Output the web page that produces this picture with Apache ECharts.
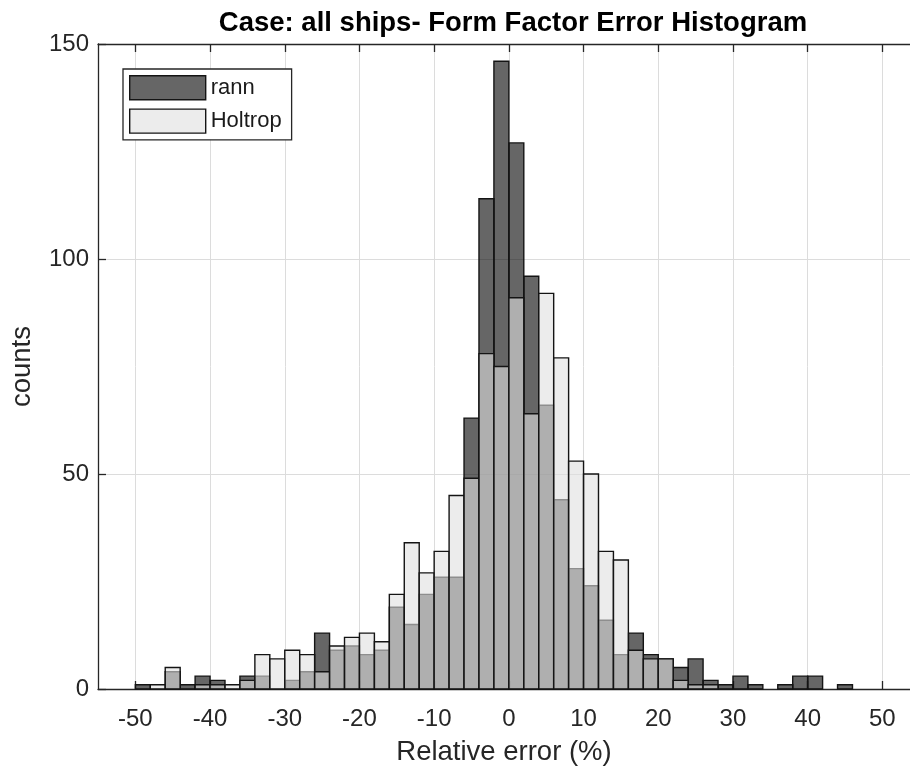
<!DOCTYPE html>
<html>
<head>
<meta charset="utf-8">
<title>Form Factor Error Histogram</title>
<script src="https://cdn.jsdelivr.net/npm/echarts@6/dist/echarts.min.js"></script>
<style>
  html, body { margin: 0; padding: 0; background: #fff; }
  #chart { width: 910px; height: 771px; }
</style>
</head>
<body>
<div id="chart"></div>
<script>
// Histogram bin edges (relative error, %), bin width 2
const binEdges = [-50, -48, -46, -44, -42, -40, -38, -36, -34, -32, -30, -28, -26, -24, -22, -20,
  -18, -16, -14, -12, -10, -8, -6, -4, -2, 0, 2, 4, 6, 8, 10, 12, 14, 16, 18, 20, 22, 24, 26, 28,
  30, 32, 34, 36, 38, 40, 42, 44, 46];

// Counts per bin
const rannCounts = [1, 0, 4, 1, 3, 2, 0, 3, 3, 0, 2, 4, 13, 9, 10, 8,
  9, 19, 15, 22, 26, 26, 63, 114, 146, 127, 96, 66, 44, 28, 24, 16, 8, 13, 8, 7, 5, 7, 2, 1,
  3, 1, 0, 1, 3, 3, 0, 1];
const holtropCounts = [0, 1, 5, 0, 1, 1, 1, 2, 8, 7, 9, 8, 4, 10, 12, 13,
  11, 22, 34, 27, 32, 45, 49, 78, 75, 91, 64, 92, 77, 53, 50, 32, 30, 9, 7, 7, 2, 1, 1, 0,
  0, 0, 0, 0, 0, 0, 0, 0];

const xTicks = [-50, -40, -30, -20, -10, 0, 10, 20, 30, 40, 50];
const yTicks = [0, 50, 100, 150];

const seriesNames = ['rann', 'Holtrop'];

function toBins(counts) {
  return counts.map((c, i) => [binEdges[i], binEdges[i + 1], c]);
}

const axisColor = '#262626';
const rannFill = 'rgba(0,0,0,0.6)';
const holtropFill = 'rgba(223,223,223,0.6)';

function barRenderer(fill) {
  return function (params, api) {
    const c = api.value(2);
    if (!c) return null;
    const p0 = api.coord([api.value(0), c]);
    const p1 = api.coord([api.value(1), 0]);
    return {
      type: 'rect',
      shape: { x: p0[0], y: p0[1], width: p1[0] - p0[0], height: p1[1] - p0[1] },
      style: { fill: fill, stroke: '#141414', lineWidth: 1.4 }
    };
  };
}

const chart = echarts.init(document.getElementById('chart'), null, { renderer: 'canvas' });

const font = 'Liberation Sans, Arial, Helvetica, sans-serif';

chart.setOption({
  animation: false,
  backgroundColor: '#ffffff',
  textStyle: { fontFamily: font },
  title: {
    text: 'Case: all ships- Form Factor Error Histogram',
    left: 508,
    top: 4,
    textAlign: 'center',
    textStyle: { fontFamily: font, fontSize: 27.5, fontWeight: 'bold', color: '#000' }
  },
  legend: {
    orient: 'vertical',
    left: 123,
    top: 69,
    padding: [6, 10, 6, 6],
    itemWidth: 76,
    itemHeight: 24,
    itemGap: 8,
    borderColor: axisColor,
    borderWidth: 1.3,
    backgroundColor: '#fff',
    selectedMode: false,
    textStyle: { fontFamily: font, fontSize: 22, color: '#1a1a1a' },
    data: [
      { name: seriesNames[0], icon: 'rect', itemStyle: { color: '#666666', borderColor: '#141414', borderWidth: 1.4 } },
      { name: seriesNames[1], icon: 'rect', itemStyle: { color: '#ececec', borderColor: '#141414', borderWidth: 1.4 } }
    ]
  },
  // the plot box runs past the right edge of the canvas
  grid: { left: 97, top: 44, right: 0, bottom: 82 },
  xAxis: [
    {
      type: 'value',
      min: -55,
      max: 53.7,
      position: 'bottom',
      name: 'Relative error (%)',
      nameLocation: 'middle',
      nameGap: 49,
      nameTextStyle: { fontFamily: font, fontSize: 27.5, color: axisColor },
      axisLine: { show: true, onZero: false, lineStyle: { color: axisColor, width: 1.3 } },
      axisTick: { show: true, inside: true, length: 8, customValues: xTicks, lineStyle: { color: axisColor, width: 1.3 } },
      axisLabel: { show: true, customValues: xTicks, margin: 18, fontFamily: font, fontSize: 24, color: axisColor },
      splitLine: { show: true, lineStyle: { color: '#dcdcdc', width: 1 } }
    },
    {
      type: 'value',
      min: -55,
      max: 53.7,
      position: 'top',
      axisLine: { show: true, onZero: false, lineStyle: { color: axisColor, width: 1.3 } },
      axisTick: { show: true, inside: true, length: 8, customValues: xTicks, lineStyle: { color: axisColor, width: 1.3 } },
      axisLabel: { show: false },
      splitLine: { show: false }
    }
  ],
  yAxis: {
    type: 'value',
    min: 0,
    max: 150,
    interval: 50,
    position: 'left',
    name: 'counts',
    nameLocation: 'middle',
    nameGap: 62,
    nameTextStyle: { fontFamily: font, fontSize: 27.5, color: axisColor },
    axisLine: { show: true, onZero: false, lineStyle: { color: axisColor, width: 1.3 } },
    axisTick: { show: true, inside: true, length: 8, customValues: yTicks, lineStyle: { color: axisColor, width: 1.3 } },
    axisLabel: { margin: 9, customValues: yTicks, fontFamily: font, fontSize: 24, color: axisColor },
    splitLine: { show: true, lineStyle: { color: '#dcdcdc', width: 1 } }
  },
  series: [
    {
      name: seriesNames[0],
      type: 'custom',
      xAxisIndex: 0,
      renderItem: barRenderer(rannFill),
      encode: { x: [0, 1], y: 2 },
      itemStyle: { color: '#666666' },
      data: toBins(rannCounts),
      z: 2
    },
    {
      name: seriesNames[1],
      type: 'custom',
      xAxisIndex: 0,
      renderItem: barRenderer(holtropFill),
      encode: { x: [0, 1], y: 2 },
      itemStyle: { color: '#ececec' },
      data: toBins(holtropCounts),
      z: 3
    }
  ]
});
</script>
</body>
</html>
